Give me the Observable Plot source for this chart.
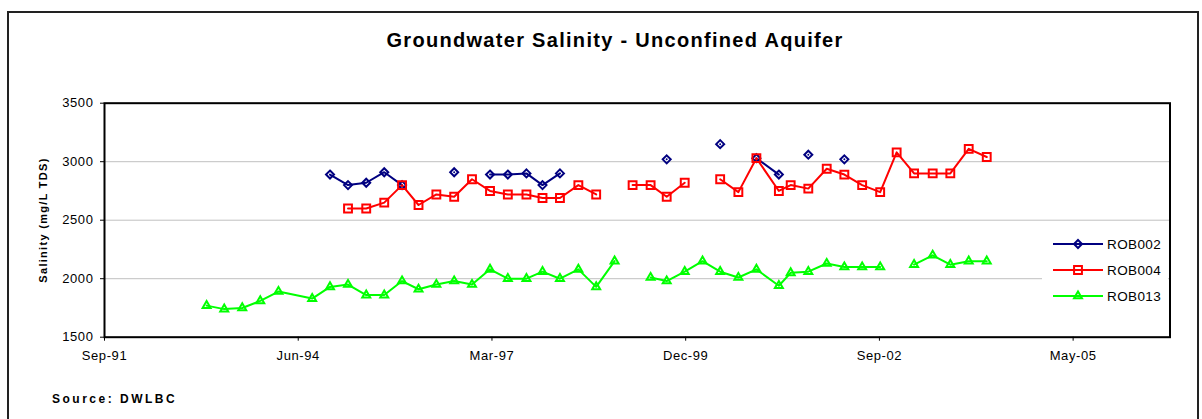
<!DOCTYPE html>
<html>
<head>
<meta charset="utf-8">
<script src="https://cdn.jsdelivr.net/npm/d3@7"></script>
<script src="https://cdn.jsdelivr.net/npm/@observablehq/plot@0.6"></script>
<style>
  html, body { margin: 0; padding: 0; background: #fff; }
  body { width: 1202px; height: 419px; overflow: hidden; position: relative;
         font-family: "Liberation Sans", Arial, sans-serif; color: #000; }
  #frame { position: absolute; left: 7px; top: 11px; width: 1192px; height: 600px;
           border: 2px solid #222; box-sizing: border-box; }
  #title { position: absolute; left: 14px; width: 1202px; top: 30px; line-height: 20px;
           text-align: center; font-weight: bold; font-size: 20px; letter-spacing: 1.3px; }
  #chart { position: absolute; left: 0; top: 80px; }
  #chart svg text { letter-spacing: 0.6px; }
  #ylabel { position: absolute; left: 43px; top: 220px; transform: translate(-50%, -50%) rotate(-90deg);
            white-space: nowrap; font-weight: bold; font-size: 11px; letter-spacing: 1.3px; }
  #legend { position: absolute; left: 1042px; top: 229px; width: 126px; height: 82px; background: #fff; }
  #source { position: absolute; left: 52px; top: 392px; line-height: 14px; font-weight: bold;
            font-size: 12px; letter-spacing: 2.5px; }
</style>
</head>
<body>
<div id="frame"></div>
<div id="title">Groundwater Salinity - Unconfined Aquifer</div>
<div id="ylabel">Salinity (mg/L TDS)</div>
<div id="chart"></div>
<div id="legend"></div>
<div id="source">Source: DWLBC</div>
<script>
// ---- data ----
const dates = [
  "1993-02-27","1993-05-29","1993-08-30","1993-12-01","1994-03-05","1994-08-26","1994-11-26",
  "1995-02-27","1995-06-01","1995-09-02","1995-12-03","1996-02-26","1996-05-28","1996-08-28",
  "1996-11-28","1997-03-01","1997-06-01","1997-09-05","1997-11-27","1998-02-25","1998-05-31",
  "1998-08-31","1998-12-04","1999-03-07","1999-06-08","1999-08-30","1999-12-01","2000-03-02",
  "2000-06-01","2000-09-03","2000-12-05","2001-03-31","2001-05-31","2001-08-30","2001-12-03",
  "2002-03-04","2002-06-04","2002-09-05","2002-11-29","2003-02-27","2003-06-03","2003-09-02",
  "2003-12-06","2004-03-08"
];
const rob002 = [
  null, null, null, null, null, null, 2890,
  2800, 2820, 2910, 2800, null, null, 2910,
  null, 2890, 2890, 2900, 2800, 2900, null,
  null, null, null, null, 3020, null, null,
  3150, null, 3030, 2890, null, 3060, null,
  3020, null, null, null, null, null, null,
  null, null
];
const rob004 = [
  null, null, null, null, null, null, null,
  2600, 2600, 2650, 2800, 2630, 2720, 2700,
  2850, 2750, 2720, 2720, 2690, 2690, 2800,
  2720, null, 2800, 2800, 2700, 2820, null,
  2850, 2740, 3030, 2750, 2800, 2770, 2940,
  2890, 2800, 2740, 3080, 2900, 2900, 2900,
  3110, 3040
];
const rob013 = [
  1770, 1740, 1750, 1810, 1890, 1830, 1930,
  1950, 1860, 1860, 1980, 1910, 1950, 1980,
  1950, 2080, 2000, 2000, 2060, 2000, 2080,
  1930, 2150, null, 2010, 1980, 2060, 2150,
  2060, 2010, 2080, 1940, 2050, 2060, 2130,
  2100, 2100, 2100, null, 2120, 2200, 2120,
  2150, 2150
];
const seriesNames = ["ROB002", "ROB004", "ROB013"];
const seriesColors = ["#000080", "#ff0000", "#00ff00"];
const seriesSymbols = ["diamond2", "square2", "triangle2"];
const seriesRadius = [3.6, 5.0, 3.8];
const yTicks = [1500, 2000, 2500, 3000, 3500];
const yDomain = [1500, 3500];
const xTicks = ["1991-09-19", "1994-06-15", "1997-03-11", "1999-12-06", "2002-09-01", "2005-05-28"];
const xDomain = ["1991-09-19", "2006-10-10"];

// ---- build ----
const parse = d3.utcParse("%Y-%m-%d");
const allSeries = [rob002, rob004, rob013];
const rows = [];
allSeries.forEach((vals, i) => vals.forEach((v, j) => {
  rows.push({series: seriesNames[i], date: parse(dates[j]), value: v});
}));

const dotMarks = seriesNames.map((name, i) =>
  Plot.dot(rows.filter(d => d.series === name && d.value != null), {
    x: "date", y: "value", stroke: seriesColors[i], symbol: seriesSymbols[i],
    r: seriesRadius[i], strokeWidth: 2, fill: "none"
  })
);

const chart = Plot.plot({
  width: 1202,
  height: 300,
  marginLeft: 104,
  marginRight: 32.5,
  marginTop: 22.7,
  marginBottom: 43.3,
  style: {fontFamily: "'Liberation Sans', Arial, sans-serif", fontSize: "13px", background: "transparent", color: "#000"},
  x: {type: "utc", domain: xDomain.map(parse), ticks: xTicks.map(parse), tickFormat: d3.utcFormat("%b-%y"),
      tickSize: 4, tickPadding: 10, label: null},
  y: {domain: yDomain, ticks: yTicks, tickSize: 4, tickPadding: 7, tickFormat: d => String(d), label: null},
  marks: [
    Plot.gridY(yTicks, {stroke: "#c0c0c0", strokeOpacity: 1, strokeWidth: 1}),
    Plot.line(rows, {x: "date", y: "value", z: "series", stroke: "series", strokeWidth: 2}),
    ...dotMarks,
    Plot.frame({stroke: "#000", strokeWidth: 2}),
    Plot.axisX({ticks: xTicks.map(parse), tickFormat: d3.utcFormat("%b-%y"), tickSize: 4, tickPadding: 10, label: null, stroke: "#000"}),
    Plot.axisY({ticks: yTicks, tickFormat: d => String(d), tickSize: 4, tickPadding: 7, label: null, stroke: "#000"})
  ],
  color: {domain: seriesNames, range: seriesColors}
});
document.getElementById("chart").appendChild(chart);

// ---- legend ----
const symMap = {diamond2: d3.symbolDiamond2, square2: d3.symbolSquare2, triangle2: d3.symbolTriangle2};
const lg = d3.select("#legend").append("svg").attr("width", 126).attr("height", 82);
seriesNames.forEach((name, i) => {
  const g = lg.append("g").attr("transform", `translate(0, ${15 + i * 26})`);
  g.append("line").attr("x1", 11).attr("x2", 61).attr("y1", 0).attr("y2", 0)
    .attr("stroke", seriesColors[i]).attr("stroke-width", 2);
  g.append("path").attr("transform", "translate(36,0)")
    .attr("d", d3.symbol(symMap[seriesSymbols[i]], Math.PI * seriesRadius[i] * seriesRadius[i])())
    .attr("fill", "none").attr("stroke", seriesColors[i]).attr("stroke-width", 2);
  g.append("text").attr("x", 65).attr("y", 5).text(name)
    .attr("font-family", "'Liberation Sans', Arial, sans-serif").attr("font-size", 13.5).attr("letter-spacing", 0.4);
});
</script>
</body>
</html>
